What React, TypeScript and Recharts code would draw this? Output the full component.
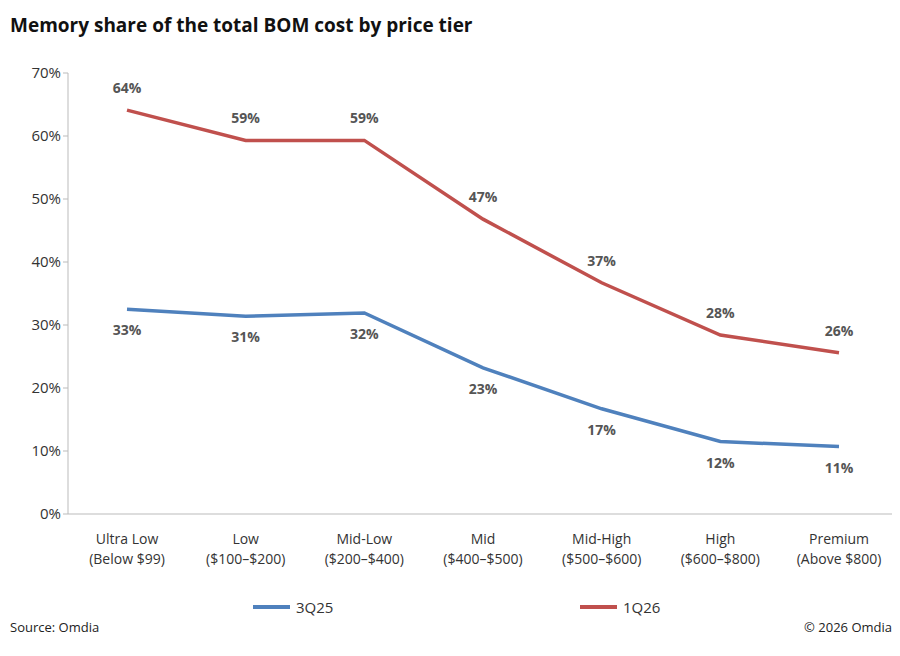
import React from "react";
import { LineChart, Line, XAxis, YAxis, LabelList } from "recharts";

const categories = ["Ultra Low|(Below $99)", "Low|($100–$200)", "Mid-Low|($200–$400)", "Mid|($400–$500)", "Mid-High|($500–$600)", "High|($600–$800)", "Premium|(Above $800)"];
const s3Q25 = [32.5, 31.4, 31.9, 23.2, 16.7, 11.5, 10.7];
const s1Q26 = [64.1, 59.3, 59.3, 46.8, 36.7, 28.4, 25.6];
const yTicks = [0, 10, 20, 30, 40, 50, 60, 70];

const data = categories.map((c, i) => ({ c, a: s3Q25[i], b: s1Q26[i] }));
const font = "'Open Sans', 'Liberation Sans', sans-serif";
const BLUE = "#4f81bd";
const RED = "#c0504d";

const XTick = (p: any) => {
  const [l1, l2] = String(p.payload.value).split("|");
  return (
    <g transform={`translate(${p.x},${p.y})`}>
      <text textAnchor="middle" fontSize={14} fill="#333" fontFamily={font}>
        <tspan x={0} dy={22}>{l1}</tspan>
        <tspan x={0} dy={20}>{l2}</tspan>
      </text>
    </g>
  );
};

const mkLabel = (dy: number) => (p: any) => (
  <text x={p.x} y={p.y + dy} textAnchor="middle" fontSize={14} fontWeight="bold" fill="#555" fontFamily={font}>
    {Math.round(p.value)}%
  </text>
);

export default function App() {
  return (
    <div style={{ position: "relative", width: 900, height: 656, margin: -8, background: "#fff", fontFamily: font }}>
      <div style={{ position: "absolute", left: 10, top: 12, fontSize: 19, fontWeight: "bold", color: "#111" }}>
        Memory share of the total BOM cost by price tier
      </div>
      <LineChart width={900} height={656} data={data} margin={{ top: 73, right: 2, bottom: 112, left: 8 }}>
        <XAxis dataKey="c" tick={<XTick />} interval={0} stroke="#bbb" tickLine={false} padding={{ left: 59, right: 59 }} />
        <YAxis domain={[0, 70]} ticks={yTicks} tickFormatter={(v) => `${v}%`} width={60} stroke="#bbb"
          tick={{ fill: "#333", fontSize: 15, fontFamily: font }} tickSize={5} />
        <Line dataKey="a" stroke={BLUE} strokeWidth={3.5} dot={false} isAnimationActive={false}>
          <LabelList content={mkLabel(26)} />
        </Line>
        <Line dataKey="b" stroke={RED} strokeWidth={3.5} dot={false} isAnimationActive={false}>
          <LabelList content={mkLabel(-17)} />
        </Line>
      </LineChart>
      <div style={{ position: "absolute", left: 253, top: 597, display: "flex", alignItems: "center", fontSize: 15, color: "#333" }}>
        <span style={{ width: 37, height: 4, background: BLUE, marginRight: 6 }} />3Q25
      </div>
      <div style={{ position: "absolute", left: 580, top: 597, display: "flex", alignItems: "center", fontSize: 15, color: "#333" }}>
        <span style={{ width: 37, height: 4, background: RED, marginRight: 6 }} />1Q26
      </div>
      <div style={{ position: "absolute", left: 10, top: 618, fontSize: 13, color: "#222" }}>Source: Omdia</div>
      <div style={{ position: "absolute", right: 8, top: 618, fontSize: 13, color: "#222" }}>© 2026 Omdia</div>
    </div>
  );
}
